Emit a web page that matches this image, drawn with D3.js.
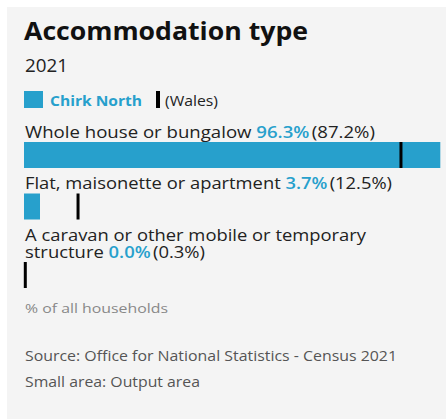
<!DOCTYPE html>
<meta charset="utf-8">
<style>
body { margin: 0; background: #fff; font-family: "Open Sans", sans-serif; }
</style>
<svg width="446" height="419"></svg>
<script src="https://cdn.jsdelivr.net/npm/d3@7"></script>
<script>
var categories = ["Whole house or bungalow", "Flat, maisonette or apartment", "A caravan or other mobile or temporary structure"]
var labelLines = [["Whole house or bungalow"], ["Flat, maisonette or apartment"], ["A caravan or other mobile or temporary", "structure"]]
var areaValues = [96.3, 3.7, 0.0]
var walesValues = [87.2, 12.5, 0.3]

const svg = d3.select('svg')
const teal = '#27a0cc'

function fit(sel, w) {
  return sel.attr('textLength', w).attr('lengthAdjust', 'spacingAndGlyphs')
}

svg.append('rect')
  .attr('x', 7).attr('y', 7)
  .attr('width', 446).attr('height', 412)
  .attr('fill', '#f4f4f4')

fit(svg.append('text')
  .attr('x', 24).attr('y', 39.5)
  .attr('font-size', 24.5).attr('font-weight', 700)
  .attr('fill', '#111')
  .text('Accommodation type'), 284)

fit(svg.append('text')
  .attr('x', 25).attr('y', 72)
  .attr('font-size', 18).attr('fill', '#222')
  .text('2021'), 43)

// legend
svg.append('rect').attr('x', 24).attr('y', 91).attr('width', 19).attr('height', 17).attr('fill', teal)
fit(svg.append('text').attr('x', 50).attr('y', 106)
  .attr('font-size', 14.5).attr('font-weight', 700).attr('fill', teal)
  .text('Chirk North'), 92)
svg.append('rect').attr('x', 156).attr('y', 91).attr('width', 4).attr('height', 17).attr('fill', '#000')
fit(svg.append('text').attr('x', 165).attr('y', 106)
  .attr('font-size', 14).attr('fill', '#222')
  .text('(Wales)'), 53)

const x = d3.scaleLinear().domain([0, 100]).range([24, 456.3])

var lastBase = [137.5, 189, 257.5]   // baseline of each label's last line
var lastWidth = [350, 367, 180]
var lineH = 17
var barH = 26

var rows = svg.append('g').selectAll('g')
  .data(categories)
  .enter().append('g')

rows.each(function (cat, i) {
  const g = d3.select(this)
  const lines = labelLines[i]
  const n = lines.length
  const t = g.append('text')
    .attr('font-size', 15.5).attr('fill', '#222')
  lines.forEach(function (ln, j) {
    const y = lastBase[i] - (n - 1 - j) * lineH
    if (j < n - 1) {
      fit(t.append('tspan').attr('x', 25).attr('y', y).text(ln), 341)
    } else {
      const line = t.append('tspan').attr('x', 25).attr('y', y)
      line.append('tspan').text(ln + ' ')
      line.append('tspan').attr('font-weight', 600).attr('fill', teal)
        .text(areaValues[i].toFixed(1) + '%')
      line.append('tspan').attr('dx', 2).text('(' + walesValues[i].toFixed(1) + '%)')
      fit(line, lastWidth[i])
    }
  })
  const by = lastBase[i] + 4.5
  g.append('rect')
    .attr('x', x(0)).attr('y', by)
    .attr('width', x(areaValues[i]) - x(0))
    .attr('height', barH)
    .attr('fill', teal)
  g.append('rect')
    .attr('x', x(walesValues[i]) - 1.5).attr('y', by)
    .attr('width', 3).attr('height', barH)
    .attr('fill', '#000')
})

fit(svg.append('text').attr('x', 25).attr('y', 313)
  .attr('font-size', 13.5).attr('fill', '#888')
  .text('% of all households'), 143)

fit(svg.append('text').attr('x', 25).attr('y', 361)
  .attr('font-size', 15).attr('fill', '#555')
  .text('Source: Office for National Statistics - Census 2021'), 372)

fit(svg.append('text').attr('x', 25).attr('y', 387)
  .attr('font-size', 15).attr('fill', '#555')
  .text('Small area: Output area'), 175)
</script>
